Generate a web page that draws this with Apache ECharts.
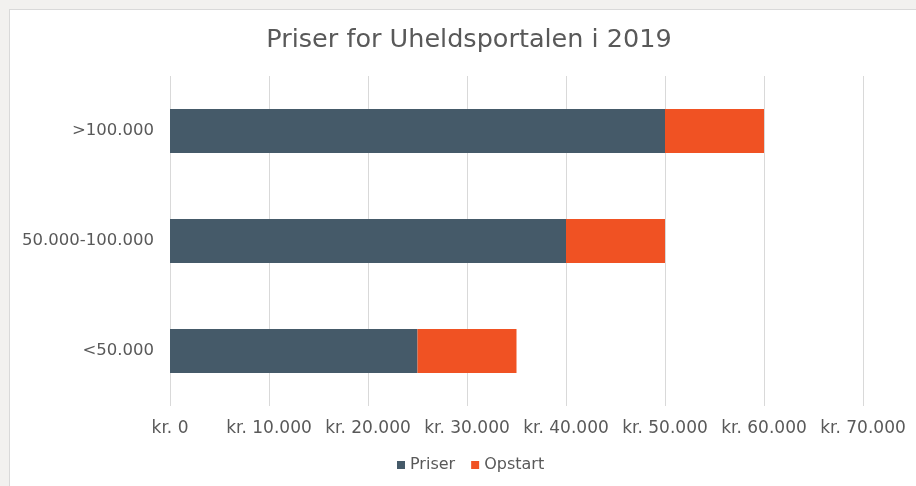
<!DOCTYPE html>
<html>
<head>
<meta charset="utf-8">
<script src="https://cdn.jsdelivr.net/npm/echarts@6/dist/echarts.min.js"></script>
<style>
  html, body {margin: 0; padding: 0; background: #f2f1ef; overflow: hidden;}
  #main {
    position: absolute; left: 9px; top: 9px;
    width: 906px; height: 476px;
    background: #fff;
    border-left: 1px solid #d9d9d9; border-top: 1px solid #d9d9d9;
  }
</style>
</head>
<body>
<div id="main"></div>
<script>
const categories = ['<50.000', '50.000-100.000', '>100.000'];
const priser = [25000, 40000, 50000];
const opstart = [10000, 10000, 10000];
const xTicks = [0, 10000, 20000, 30000, 40000, 50000, 60000, 70000];

const font = "'DejaVu Sans', Verdana, sans-serif";
const fmt = (v) => 'kr. ' + String(v).replace(/\B(?=(\d{3})+(?!\d))/g, '.');

const chart = echarts.init(document.getElementById('main'));
chart.setOption({
  animation: false,
  title: {
    text: 'Priser for Uheldsportalen i 2019',
    left: 454,
    textAlign: 'center',
    top: 12,
    textStyle: {fontFamily: font, fontSize: 25.5, fontWeight: 'normal', color: '#595959'}
  },
  legend: {
    left: 382,
    top: 442,
    itemWidth: 8,
    itemHeight: 8,
    itemGap: 16,
    icon: 'rect',
    textStyle: {fontFamily: font, fontSize: 16, color: '#595959'},
    data: ['Priser', 'Opstart']
  },
  grid: {left: 160, top: 66, width: 693, height: 330, containLabel: false},
  xAxis: {
    type: 'value',
    min: xTicks[0],
    max: xTicks[xTicks.length - 1],
    interval: 10000,
    axisLine: {show: false},
    axisTick: {show: false},
    splitLine: {lineStyle: {color: '#d9d9d9'}},
    axisLabel: {formatter: fmt, margin: 14, fontFamily: font, fontSize: 17, color: '#595959'}
  },
  yAxis: {
    type: 'category',
    data: categories,
    axisLine: {show: false},
    axisTick: {show: false},
    axisLabel: {margin: 16, fontFamily: font, fontSize: 16.5, color: '#595959'}
  },
  series: [
    {name: 'Priser', type: 'bar', stack: 'a', data: priser, barWidth: 44, itemStyle: {color: '#455a69'}},
    {name: 'Opstart', type: 'bar', stack: 'a', data: opstart, barWidth: 44, itemStyle: {color: '#f05223'}}
  ]
});
</script>
</body>
</html>
